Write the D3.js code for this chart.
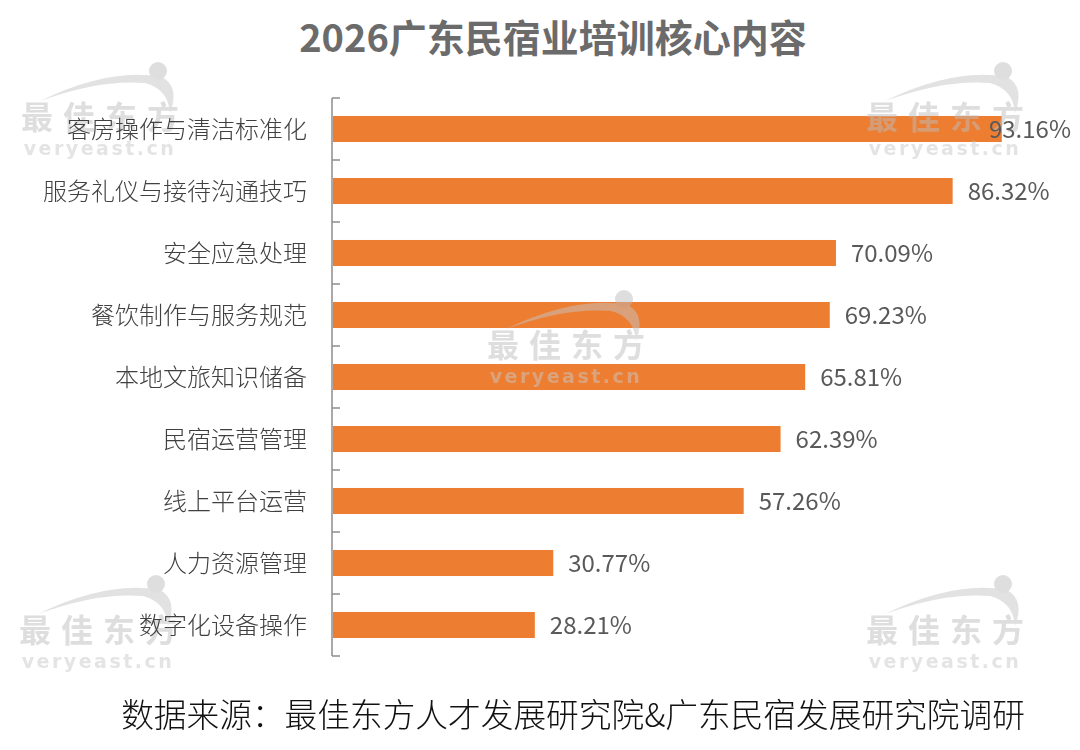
<!DOCTYPE html>
<html><head><meta charset="utf-8">
<script src="https://cdn.jsdelivr.net/npm/d3@7"></script>
<style>html,body{margin:0;padding:0;background:#fff;}svg{display:block;}</style>
</head><body>
<svg id="chart" width="1080" height="750"></svg>
<script>
const categories = ["客房操作与清洁标准化","服务礼仪与接待沟通技巧","安全应急处理","餐饮制作与服务规范","本地文旅知识储备","民宿运营管理","线上平台运营","人力资源管理","数字化设备操作"];
const values = [93.16,86.32,70.09,69.23,65.81,62.39,57.26,30.77,28.21];
const valueLabels = ["93.16%","86.32%","70.09%","69.23%","65.81%","62.39%","57.26%","30.77%","28.21%"];
const title = "2026广东民宿业培训核心内容";
const source = "数据来源：最佳东方人才发展研究院&广东民宿发展研究院调研";

const svg = d3.select("#chart");
const font = "'Noto Sans CJK SC','Noto Sans',sans-serif";

const x = d3.scaleLinear().domain([0,100]).range([332,1051]);
const y = d3.scaleBand().domain(categories).range([98,656]).paddingInner(0.58).paddingOuter(0.29);
const yb = d3.scaleBand().domain(categories).range([98,656]);

// title
svg.append("text").attr("x",553).attr("y",52).attr("text-anchor","middle")
  .attr("font-family",font).attr("font-weight",700).attr("font-size",38)
  .attr("fill","#6b6b6b").text(title);

// bars
svg.append("g").selectAll("rect").data(values).join("rect")
  .attr("x",x(0)+1).attr("y",(d,i)=>y(categories[i]))
  .attr("width",d=>x(d)-x(0)-1).attr("height",y.bandwidth())
  .attr("fill","#ED7D31");

// watermarks (semi-transparent overlay)
const wm = [[100,117],[945,117],[566,345],[98,630],[945,630]];
const wmg = svg.append("g").attr("opacity",0.5);
wm.forEach(([cx,cy])=>{
  const g = wmg.append("g").attr("transform",`translate(${cx},${cy})`);
  g.append("path").attr("d","M-60,-16 Q10,-50 62,-40 Q80,-30 70,-4 Q68,-28 45,-34 Q0,-38 -60,-16 Z").attr("fill","#c4c4c4");
  g.append("circle").attr("cx",58).attr("cy",-46).attr("r",9).attr("fill","#bdbdbd");
  g.append("text").attr("x",5).attr("y",12).attr("text-anchor","middle")
    .attr("font-family",font).attr("font-weight",700).attr("font-size",32)
    .attr("letter-spacing",10).attr("fill","#bdbdbd").text("最佳东方");
  g.append("text").attr("x",0).attr("y",38).attr("text-anchor","middle")
    .attr("font-family","'DejaVu Sans',sans-serif").attr("font-weight",700).attr("font-size",19)
    .attr("letter-spacing",2.5).attr("fill","#c8c8c8").text("veryeast.cn");
});

// value labels
const overflow = d => x(d)+15+84 > 1075;
svg.append("g").selectAll("text").data(values).join("text")
  .attr("x",d=>overflow(d) ? 1071 : x(d)+15)
  .attr("text-anchor",d=>overflow(d) ? "end" : "start")
  .attr("y",(d,i)=>y(categories[i])+y.bandwidth()/2)
  .attr("dy","0.36em").attr("font-family",font).attr("font-size",24)
  .attr("fill","#595959").text((d,i)=>valueLabels[i]);

// axis
const axisG = svg.append("g").attr("stroke","#8c8c8c").attr("stroke-width",1.5);
axisG.append("line").attr("x1",332).attr("x2",332).attr("y1",98).attr("y2",656);
const bounds = categories.map(c=>yb(c)).concat([656]);
axisG.selectAll("line.t").data(bounds).join("line").attr("class","t")
  .attr("x1",332).attr("x2",340).attr("y1",d=>d).attr("y2",d=>d);

// category labels
svg.append("g").selectAll("text").data(categories).join("text")
  .attr("x",307).attr("y",c=>yb(c)+yb.bandwidth()/2).attr("dy","0.36em")
  .attr("text-anchor","end").attr("font-family",font).attr("font-size",24).attr("font-weight",300)
  .attr("fill","#404040").text(c=>c);

// source
svg.append("text").attr("x",573).attr("y",727).attr("text-anchor","middle")
  .attr("font-family",font).attr("font-size",32.7).attr("font-weight",300).attr("fill","#111").text(source);
</script>
</body></html>
